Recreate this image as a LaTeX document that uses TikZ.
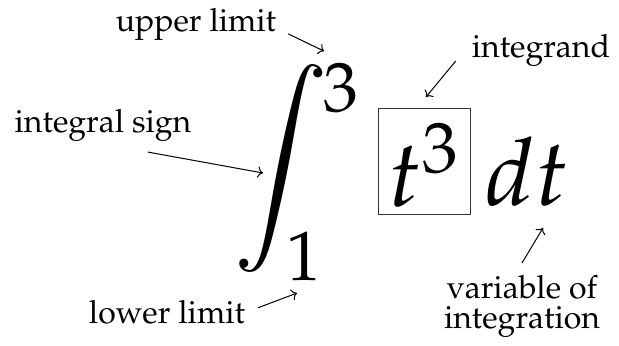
\documentclass[tikz,border=0pt]{standalone}
\usepackage[T1]{fontenc}
\usepackage{mathpazo}
\usetikzlibrary{arrows.meta,positioning}

\begin{document}
\begin{tikzpicture}[x=0.5pt,y=-0.5pt,
    lbl/.style={font=\fontsize{16}{15}\selectfont, align=center},
    big/.style={font=\fontsize{47}{47}\selectfont},
    lim/.style={font=\fontsize{35}{35}\selectfont, inner sep=0pt},
    pointer/.style={->, line width=0.5pt}]
  \useasboundingbox (0,0) rectangle (619,346);
  % the integral
  \node[font=\fontsize{52}{52}\selectfont, inner sep=0pt] (int) at (281,169) {$\displaystyle\int$};
  \node[lim] (upper) at (341,88) {$3$};
  \node[lim] (lower) at (304,256) {$1$};
  \node[big, draw=black!80, line width=0.5pt, inner sep=3pt, text height=46pt, text depth=1pt,
        minimum width=46pt, anchor=north] (integrand) at (424,108) {$t^3$};
  \node[big, anchor=base] (dt) at (527,206) {$dt$};
  % labels
  \node[lbl, anchor=base] (lupper) at (196,32) {upper limit};
  \node[lbl, anchor=base] (lint) at (103,133) {integral sign};
  \node[lbl, anchor=base] (llower) at (167,323) {lower limit};
  \node[lbl, anchor=base] (lintegrand) at (541,58) {integrand};
  \node[lbl, anchor=north] (lvar) at (522,268) {variable of\\integration};
  % pointers
  \draw[pointer] ([shift={(5,9)}]lupper.east) -- ([shift={(1,-12)}]upper.north west);
  \draw[pointer] ([shift={(-9,10)}]lintegrand.west) -- ([shift={(2,-11)}]integrand.north);
  \draw[pointer] ([shift={(45,3)}]lint.south) -- ([shift={(-18,4)}]int.center);
  \draw[pointer] ([shift={(6,-4)}]llower.east) -- ([shift={(-7,12)}]lower.south);
  \draw[pointer] ([shift={(0,-5)}]lvar.north) -- ([shift={(16,14)}]dt.south);
\end{tikzpicture}
\end{document}
